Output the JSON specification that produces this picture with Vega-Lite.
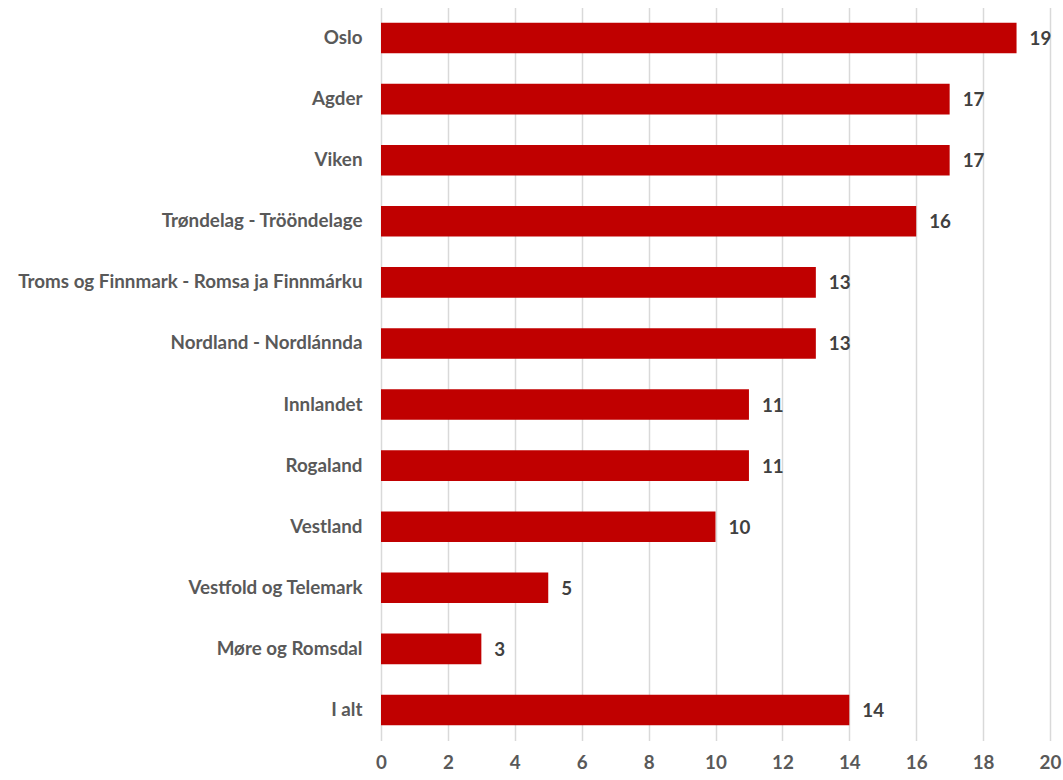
{
  "$schema": "https://vega.github.io/schema/vega-lite/v6.json",
  "autosize": "none",
  "width": 669,
  "height": 733,
  "padding": {"left": 381, "top": 7.5, "right": 13, "bottom": 39.5},
  "background": "white",
  "config": {"view": {"stroke": null}},
  "data": {
    "values": [
      {"region": "Oslo", "value": 19},
      {"region": "Agder", "value": 17},
      {"region": "Viken", "value": 17},
      {"region": "Trøndelag - Trööndelage", "value": 16},
      {"region": "Troms og Finnmark - Romsa ja Finnmárku", "value": 13},
      {"region": "Nordland - Nordlánnda", "value": 13},
      {"region": "Innlandet", "value": 11},
      {"region": "Rogaland", "value": 11},
      {"region": "Vestland", "value": 10},
      {"region": "Vestfold og Telemark", "value": 5},
      {"region": "Møre og Romsdal", "value": 3},
      {"region": "I alt", "value": 14}
    ]
  },
  "encoding": {
    "y": {
      "field": "region",
      "type": "nominal",
      "sort": null,
      "title": null,
      "scale": {"paddingInner": 0.5, "paddingOuter": 0.25},
      "axis": {
        "domain": false,
        "ticks": false,
        "labelFont": "Lato",
        "labelFontSize": 18.8,
        "labelFontWeight": "bold",
        "labelColor": "#595959",
        "labelPadding": 19,
        "labelLimit": 400
      }
    },
    "x": {
      "field": "value",
      "type": "quantitative",
      "title": null,
      "scale": {"domain": [0, 20], "nice": false},
      "axis": {
        "values": [0, 2, 4, 6, 8, 10, 12, 14, 16, 18, 20],
        "domain": false,
        "ticks": false,
        "grid": true,
        "gridColor": "#d9d9d9",
        "gridWidth": 1.5,
        "labelFont": "Lato",
        "labelFontSize": 18.8,
        "labelFontWeight": "bold",
        "labelColor": "#595959",
        "labelPadding": 13,
        "labelFlush": false
      }
    }
  },
  "layer": [
    {"mark": {"type": "bar", "color": "#C00000"}},
    {
      "mark": {"type": "text", "align": "left", "dx": 13, "dy": 1, "font": "Lato", "fontSize": 18.8, "fontWeight": "bold", "color": "#404040"},
      "encoding": {"text": {"field": "value", "type": "quantitative"}}
    }
  ]
}
